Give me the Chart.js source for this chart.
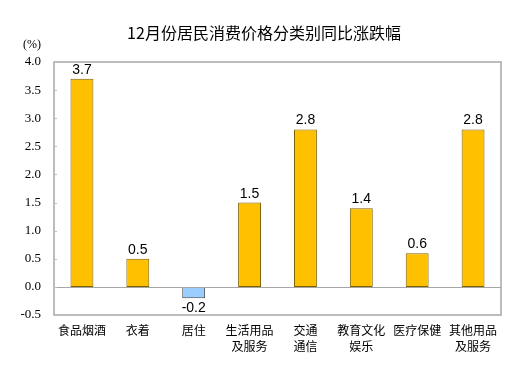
<!DOCTYPE html>
<html><head><meta charset="utf-8">
<script src="https://cdn.jsdelivr.net/npm/chart.js@4"></script>
<style>html,body{margin:0;padding:0;background:#fff}#wrap{width:529px;height:378px}</style>
</head><body><div id="wrap"><canvas id="c" width="529" height="378"></canvas></div>
<script>
const categories = ['食品烟酒','衣着','居住',['生活用品','及服务'],['交通','通信'],['教育文化','娱乐'],'医疗保健',['其他用品','及服务']];
const values = [3.7, 0.5, -0.2, 1.5, 2.8, 1.4, 0.6, 2.8];
const yTicks = [4.0, 3.5, 3.0, 2.5, 2.0, 1.5, 1.0, 0.5, 0.0, -0.5];
const titleText = '12月份居民消费价格分类别同比涨跌幅';
const unitText = '(%)';

const cjk = '"Noto Sans CJK SC", "Noto Sans", sans-serif';
const PL = 54, PR = 501, PT = 62, PB = 315;

const deco = {
  id: 'deco',
  afterDatasetsDraw(chart) {
    const ctx = chart.ctx, a = chart.chartArea, y = chart.scales.y;
    ctx.save();
    ctx.strokeStyle = '#A6A6A6'; ctx.lineWidth = 1.5;
    ctx.strokeRect(a.left, a.top, a.right - a.left, a.bottom - a.top);
    const z = Math.round(y.getPixelForValue(0)) + 0.5;
    ctx.lineWidth = 1; ctx.strokeStyle = '#A6A6A6';
    ctx.beginPath(); ctx.moveTo(a.left, z); ctx.lineTo(a.right, z); ctx.stroke();
    ctx.strokeStyle = '#BFBFBF';
    yTicks.forEach(v => { const p = Math.round(y.getPixelForValue(v)) + 0.5;
      ctx.beginPath(); ctx.moveTo(a.left, p); ctx.lineTo(a.left + 3, p); ctx.stroke(); });
    ctx.fillStyle = '#000'; ctx.font = '14px "Liberation Sans", Arial, sans-serif'; ctx.textAlign = 'center';
    chart.getDatasetMeta(0).data.forEach((bar, i) => {
      const v = values[i];
      if (v >= 0) { ctx.textBaseline = 'alphabetic'; ctx.fillText(v.toFixed(1), bar.x, bar.y - 5); }
      else { ctx.textBaseline = 'top'; ctx.fillText(v.toFixed(1), bar.x, bar.y + 3); }
    });
    ctx.font = '16px ' + cjk; ctx.textBaseline = 'middle';
    ctx.fillText(titleText, 264, 33);
    ctx.font = '12px "Liberation Serif", serif'; ctx.textAlign = 'left';
    ctx.fillText(unitText, 23, 45);
    ctx.restore();
  }
};

new Chart(document.getElementById('c'), {
  type: 'bar',
  data: { labels: categories, datasets: [{
    data: values,
    backgroundColor: values.map(v => v >= 0 ? '#FFC000' : '#99CCFF'),
    borderColor: values.map(v => v >= 0 ? '#7F6000' : '#404040'),
    borderWidth: 1,
    borderSkipped: false,
    barPercentage: 0.41,
    categoryPercentage: 1.0
  }]},
  options: {
    responsive: false, animation: false, devicePixelRatio: 1,
    layout: { padding: { left: 0, right: 529 - PR, top: PT, bottom: 0 } },
    plugins: { legend: { display: false }, tooltip: { enabled: false }, title: { display: false } },
    scales: {
      x: {
        grid: { display: false, drawTicks: false }, border: { display: false },
        ticks: { color: '#000', font: { family: cjk, size: 12, lineHeight: 1.33 }, padding: 7, maxRotation: 0, autoSkip: false },
        afterFit(s) { s.height = 378 - PB; }
      },
      y: {
        min: -0.5, max: 4.0,
        afterBuildTicks(s) { s.ticks = yTicks.map(v => ({ value: v })); },
        grid: { display: false, drawTicks: false }, border: { display: false },
        ticks: { color: '#000', font: { family: '"Liberation Serif", serif', size: 13 }, padding: 13,
          callback: v => v.toFixed(1) },
        afterFit(s) { s.width = PL; }
      }
    }
  },
  plugins: [deco]
});
</script></body></html>
